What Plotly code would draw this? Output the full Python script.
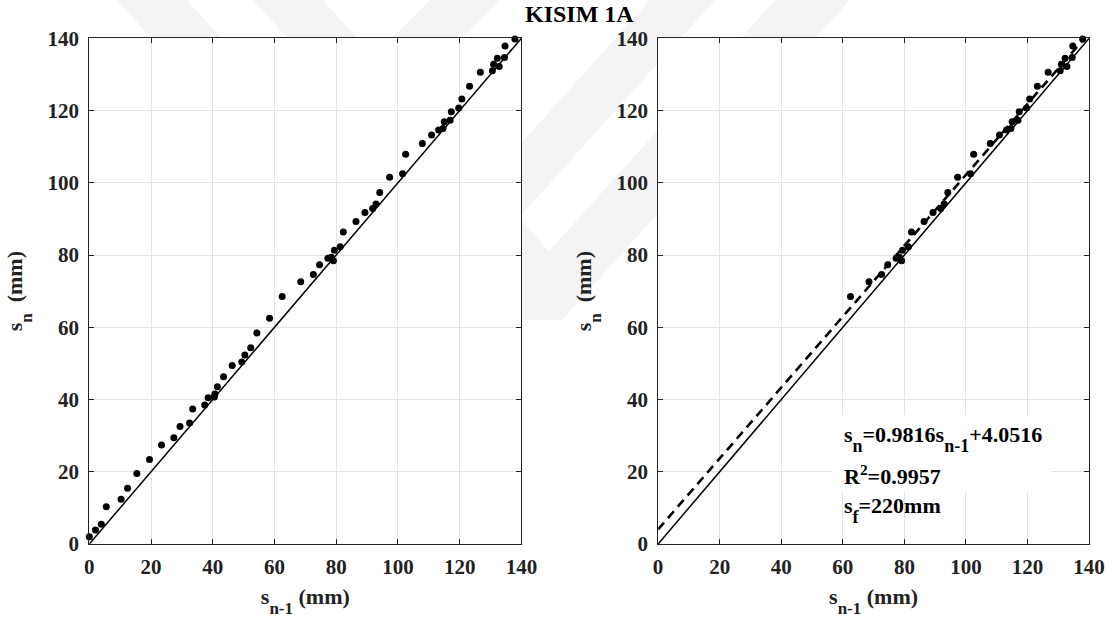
import plotly.graph_objects as go
from plotly.subplots import make_subplots

# Consecutive settlement readings s_0 ... s_61 (mm)
settlement = [0.0, 2.0, 3.9, 5.5, 10.3, 12.4, 15.4, 19.5, 23.4, 27.4,
              29.4, 32.5, 33.5, 37.4, 38.5, 40.5, 40.7, 41.5, 43.5, 46.3,
              49.4, 50.4, 52.3, 54.3, 58.4, 62.5, 68.5, 72.6, 74.6, 77.3,
              79.1, 78.4, 79.4, 81.3, 82.3, 86.4, 89.3, 91.8, 92.9, 94.1,
              97.3, 101.5, 102.5, 107.9, 110.9, 113.2, 114.6, 115.0, 116.9, 117.3,
              119.7, 120.7, 123.2, 126.7, 130.6, 131.0, 132.8, 132.2, 134.5, 134.7,
              137.9, 139.8]

# first reading (index) used in the linear fit shown on the right panel
fit_start = 25
fit_slope = 0.9816
fit_intercept = 4.0516
fit_r2 = 0.9957
final_settlement = 220  # mm

axis_ticks = [0, 20, 40, 60, 80, 100, 120, 140]
identity_x = [0, 140]

s_prev = settlement[:-1]
s_next = settlement[1:]
fit_prev = settlement[fit_start:-1]
fit_next = settlement[fit_start + 1:]
fit_line_x = [0, 140]
fit_line_y = [fit_slope * v + fit_intercept for v in fit_line_x]

W, H = 1113, 621
FONT = "Liberation Serif, Times New Roman, serif"
INK = "#222222"


def px(x):
    return x / W


def py(y):
    return 1 - y / H


def sub(t, size):
    return ('<sub><span style="font-size:{}px;baseline-shift:-5px">{}</span></sub>'
            .format(size, t))


fig = make_subplots(rows=1, cols=2, horizontal_spacing=0.1)

for col, xs, ys in [(1, s_prev, s_next), (2, fit_prev, fit_next)]:
    fig.add_trace(go.Scatter(x=identity_x, y=identity_x, mode="lines",
                             line=dict(color="black", width=1.5),
                             showlegend=False, hoverinfo="skip"), row=1, col=col)
    if col == 2:
        fig.add_trace(go.Scatter(x=fit_line_x, y=fit_line_y, mode="lines",
                                 line=dict(color="black", width=2.6, dash="9px,6px"),
                                 showlegend=False, hoverinfo="skip"), row=1, col=col)
    fig.add_trace(go.Scatter(x=xs, y=ys, mode="markers",
                             marker=dict(color="black", size=7, line=dict(width=0)),
                             cliponaxis=False, showlegend=False), row=1, col=col)

x_dom = [[px(89.3), px(521.4)], [px(658.1), px(1089.1)]]
y_dom = [py(544), py(38.3)]

axis_common = dict(range=[0, 140], tickvals=axis_ticks, showgrid=True,
                   gridcolor="#e3e3e3", gridwidth=1, zeroline=False,
                   showline=True, linecolor=INK, linewidth=1, mirror="ticks",
                   ticks="inside", ticklen=5, tickcolor=INK, automargin=False,
                   tickfont=dict(family=FONT, size=21, color=INK, weight="bold"))
title_font = dict(family=FONT, size=22, color=INK, weight="bold")

for i, name in enumerate(["", "2"]):
    fig.layout["xaxis" + name].update(
        domain=x_dom[i], ticklabelstandoff=4,
        title=dict(text="s" + sub("n-1", 17) + "\u00a0(mm)", font=title_font, standoff=10),
        **axis_common)
    fig.layout["yaxis" + name].update(
        domain=y_dom, ticklabelstandoff=5,
        title=dict(text="s" + sub("n", 17) + "\u00a0\u00a0(mm)", font=title_font, standoff=18),
        **axis_common)

# faint diagonal watermark bands in the page background
bands = [(117, 187, 0.9, 300), (253, 323, 0.9, 300), (430, 500, -1.0, 300),
         (650, 715, -0.9, 260), (775, 850, -0.9, 320)]
shapes = []
for x0, x1, k, length in bands:
    path = "M {} {} L {} {} L {} {} L {} {} Z".format(
        px(x0), py(0), px(x1), py(0),
        px(x1 + k * length), py(length), px(x0 + k * length), py(length))
    shapes.append(dict(type="path", xref="paper", yref="paper", path=path,
                       fillcolor="#f4f4f4", line=dict(width=0), layer="below"))
for xd in x_dom:
    shapes.append(dict(type="rect", xref="paper", yref="paper",
                       x0=xd[0], x1=xd[1], y0=y_dom[0], y1=y_dom[1],
                       fillcolor="white", line=dict(width=0), layer="below"))
# white backing behind the fit statistics
shapes.append(dict(type="rect", xref="x2", yref="y2", x0=56.3, x1=127.6,
                   y0=14.4, y1=35.7, fillcolor="white", line=dict(width=0),
                   layer="above"))

text_font = dict(family=FONT, size=22, color="black", weight="bold")
annotations = [
    dict(text="KISIM 1A", x=px(579), y=py(14.5), xref="paper", yref="paper",
         showarrow=False, xanchor="center", yanchor="middle",
         font=dict(family=FONT, size=24, color="black", weight="bold")),
    dict(text="s" + sub("n", 18) + "={:.4f}s".format(fit_slope) + sub("n-1", 18)
         + "+{:.4f}".format(fit_intercept),
         x=59.7, y=29.0, xref="x2", yref="y2", showarrow=False,
         xanchor="left", yanchor="middle", font=text_font),
    dict(text="R<sup>2</sup>={:.4f}".format(fit_r2),
         x=59.7, y=19.1, xref="x2", yref="y2", showarrow=False,
         xanchor="left", yanchor="middle", font=text_font),
    dict(text="s" + sub("f", 18) + "={}mm".format(final_settlement),
         x=59.7, y=9.5, xref="x2", yref="y2", showarrow=False,
         xanchor="left", yanchor="middle", font=text_font),
]

fig.update_layout(width=W, height=H, margin=dict(l=0, r=0, t=0, b=0),
                  paper_bgcolor="white", plot_bgcolor="rgba(0,0,0,0)",
                  shapes=shapes, annotations=annotations, showlegend=False)

fig.write_html("out.html")
